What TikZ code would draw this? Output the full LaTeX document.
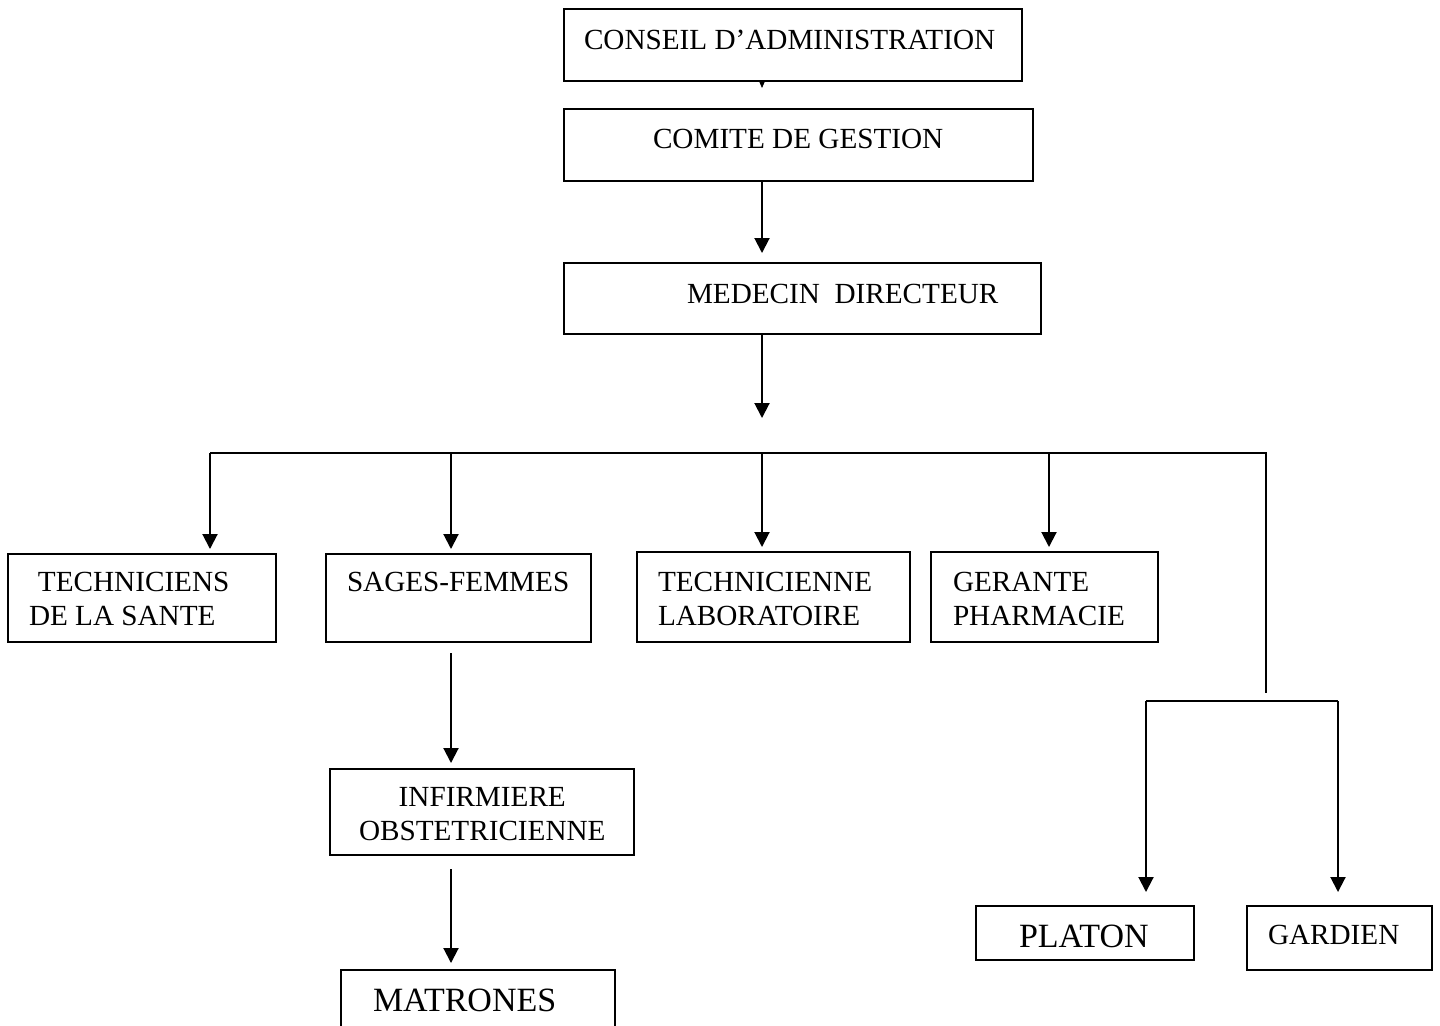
\documentclass[tikz,border=0pt]{standalone}
\usepackage{fontspec}
\setmainfont{Liberation Serif}
\usetikzlibrary{arrows.meta, positioning}

\tikzset{
  orgbox/.style={draw, line width=1pt, anchor=north west, inner xsep=0pt, inner ysep=0pt,
    font=\fontsize{14.6}{17}\selectfont},
  plain/.style={},
  bigtext/.style={font=\fontsize{17}{20}\selectfont},
  flow/.style={-{Triangle[length=7.5pt,width=7.5pt]}, line width=1pt},
  link/.style={line width=1pt}
}

\begin{document}
\begin{tikzpicture}[x=0.5pt,y=-0.5pt,line join=miter]
\useasboundingbox (0,0) rectangle (1440,1025);

% Boxes
\foreach \name/\x/\y/\w/\dx/\th/\td/\sty/\txt in {
  conseil/563/8/229/10/20/16/plain/{CONSEIL D’ADMINISTRATION},
  comite/563/108/234.5/44.5/19.5/16.5/plain/{COMITE DE GESTION},
  medecin/563/262/238.5/61.5/20/15.5/plain/{MEDECIN\ \ DIRECTEUR},
  techs/7/553/134/10.5/18.5/25.5/plain/{\hspace*{4.5pt}TECHNICIENS\\DE LA SANTE},
  sages/325/553/132.5/10.5/18.5/25.5/plain/{SAGES-FEMMES},
  techlab/636/551/136.5/10.5/19.5/25.5/plain/{TECHNICIENNE\\LABORATOIRE},
  gerante/930/551/113.5/11/19.5/25.5/plain/{GERANTE\\PHARMACIE},
  infirm/329/768/152/14.5/18.5/24.5/plain/{\hfil INFIRMIERE\\OBSTETRICIENNE},
  matrones/340/969/137/16/20.5/20/bigtext/{MATRONES},
  platon/975/905/109/21.5/20.5/6.5/bigtext/{PLATON},
  gardien/1246/905/92.5/10.5/19/13/plain/{GARDIEN}
} {
  \node[orgbox, \sty, text height=\th pt, text depth=\td pt] (\name) at (\x,\y)
    {\hbox to \w pt{\hspace*{\dx pt}\begin{tabular}[t]{@{}l@{}}\txt\end{tabular}\hfil}};
}

% Spine and bus
\coordinate (spine) at (762,0);
\coordinate (midline) at (451,0);
\coordinate (hub) at (762,418);
\coordinate (busL) at (210,453);
\coordinate (busR) at (1266,453);
\coordinate (busEnd) at (1266,693);
\coordinate (subL) at (1146,701);
\coordinate (subR) at (1338,701);

\draw[-{Triangle[length=3pt,width=2.5pt]}, line width=0.4pt] (conseil.south -| spine) -- ++(0,6);
\draw[flow, shorten >=4.5pt] (comite.south -| spine) -- (medecin.north -| spine);
\draw[flow] (medecin.south -| spine) -- (hub);
\draw[link] (busL) -- (busR) -- (busEnd);

\foreach \bx/\target in {210/techs, 451/sages, 762/techlab, 1049/gerante}
  \draw[flow, shorten >=2pt] (\bx,453) -- (\bx,453 |- \target.north);

% Sages-femmes branch
\draw[flow, shorten <=5pt, shorten >=2.5pt] (sages.south -| midline) -- (infirm.north -| midline);
\draw[flow, shorten <=6.5pt, shorten >=3pt] (infirm.south -| midline) -- (matrones.north -| midline);

% Right branch
\draw[link] (subL) -- (subR);
\draw[flow, shorten >=6.5pt] (subL) -- (subL |- platon.north);
\draw[flow, shorten >=6.5pt] (subR) -- (subR |- gardien.north);

\end{tikzpicture}
\end{document}
